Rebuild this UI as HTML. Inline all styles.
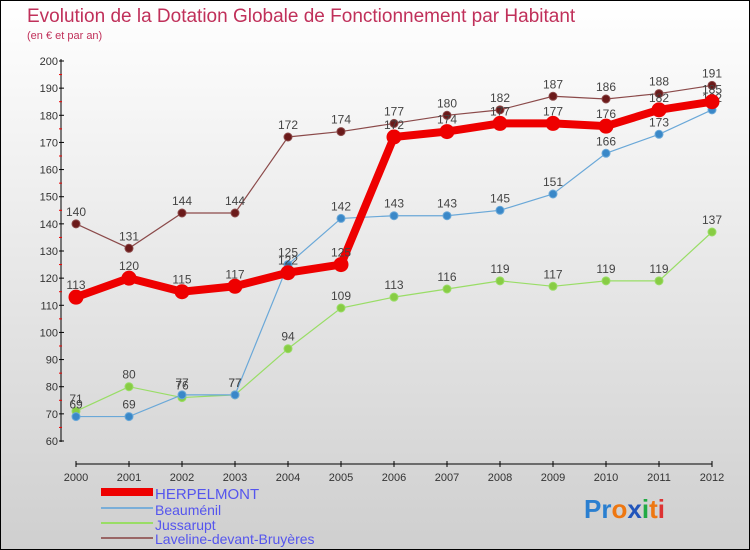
<!DOCTYPE html>
<html><head><meta charset="utf-8"><style>
body{margin:0}
#c{width:748px;height:548px;border:1px solid #000;background:linear-gradient(#ffffff,#cfcfcf);position:relative;font-family:"Liberation Sans",sans-serif;overflow:hidden}
</style></head><body>
<div id="c">
<svg id="s" width="748" height="548" style="position:absolute;left:0;top:0" font-family="Liberation Sans, sans-serif">
<text x="26" y="21" font-size="19" fill="#c0305a">Evolution de la Dotation Globale de Fonctionnement par Habitant</text>
<text x="26" y="38" font-size="11" fill="#c0305a">(en € et par an)</text>
<g id="axes"></g><g id="series"></g>
<g>
<rect x="100" y="487" width="52" height="8" fill="#e00"/>
<text x="154" y="498" font-size="15" fill="#5555ee">HERPELMONT</text>
<line x1="100" y1="507" x2="152" y2="507" stroke="#7aaed8" stroke-width="2"/>
<text x="154" y="514" font-size="14" fill="#5555ee">Beauménil</text>
<line x1="100" y1="522" x2="152" y2="522" stroke="#99dd66" stroke-width="2"/>
<text x="154" y="529" font-size="14" fill="#5555ee">Jussarupt</text>
<line x1="100" y1="537" x2="152" y2="537" stroke="#996666" stroke-width="2"/>
<text x="154" y="543" font-size="14" fill="#5555ee">Laveline-devant-Bruyères</text>
</g>
<text x="583" y="517" font-size="26" font-weight="bold"><tspan fill="#2a7fd0">Pr</tspan><tspan fill="#ee7711">o</tspan><tspan fill="#2255bb">x</tspan><tspan fill="#22aa44">i</tspan><tspan fill="#ee7711">t</tspan><tspan fill="#dd3333">i</tspan></text>
</svg></div>
<script>
const years=[2000,2001,2002,2003,2004,2005,2006,2007,2008,2009,2010,2011,2012];
const herpelmont=[113,120,115,117,122,125,172,174,177,177,176,182,185];
const beaumenil=[69,69,77,77,125,142,143,143,145,151,166,173,182];
const jussarupt=[71,80,76,77,94,109,113,116,119,117,119,119,137];
const laveline=[140,131,144,144,172,174,177,180,182,187,186,188,191];
const yTicks=[60,70,80,90,100,110,120,130,140,150,160,170,180,190,200];
const NS="http://www.w3.org/2000/svg";
const X=i=>75+i*53, Y=v=>440-(v-60)*380/140;
function mk(t,a,p){const e=document.createElementNS(NS,t);for(const k in a)e.setAttribute(k,a[k]);p.appendChild(e);return e;}
const ax=document.getElementById('axes');
mk('line',{x1:60,y1:58,x2:60,y2:441,stroke:'#000'},ax);
for(let v=65;v<200;v+=10)mk('line',{x1:58,y1:Y(v),x2:61,y2:Y(v),stroke:'#e00'},ax);
yTicks.forEach(v=>{mk('line',{x1:58,y1:Y(v),x2:63,y2:Y(v),stroke:'#000'},ax);
const t=mk('text',{x:57,y:Y(v)+4,'font-size':11,fill:'#333','text-anchor':'end'},ax);t.textContent=v;

});
mk('line',{x1:75,y1:463,x2:711,y2:463,stroke:'#000'},ax);
years.forEach((y,i)=>{mk('line',{x1:X(i),y1:460,x2:X(i),y2:466,stroke:'#000'},ax);
const t=mk('text',{x:X(i),y:480,'font-size':11,fill:'#333','text-anchor':'middle'},ax);t.textContent=y;

});
const sg=document.getElementById('series');
function draw(d,color,w,r,name,dark){
const g=mk('g',{},sg);


mk('polyline',{points:d.map((v,i)=>X(i)+','+Y(v)).join(' '),fill:'none',stroke:color,'stroke-width':w},g);
d.forEach((v,i)=>{const c=mk('circle',{cx:X(i),cy:Y(v),r:r,fill:dark,stroke:color},g);


const t=mk('text',{x:X(i),y:Y(v)-8,'font-size':12,fill:'#444','text-anchor':'middle'},g);t.textContent=v;

});}
draw(laveline,'#8b4a4a',1.2,4,'laveline','#6b1a1a');
draw(jussarupt,'#99dd66',1.2,4,'jussarupt','#88cc44');
draw(beaumenil,'#6aa8d8',1.2,4,'beaumenil','#3a88c8');
draw(herpelmont,'#ee0000',8,7,'herpelmont','#ee0000');
</script></body></html>
